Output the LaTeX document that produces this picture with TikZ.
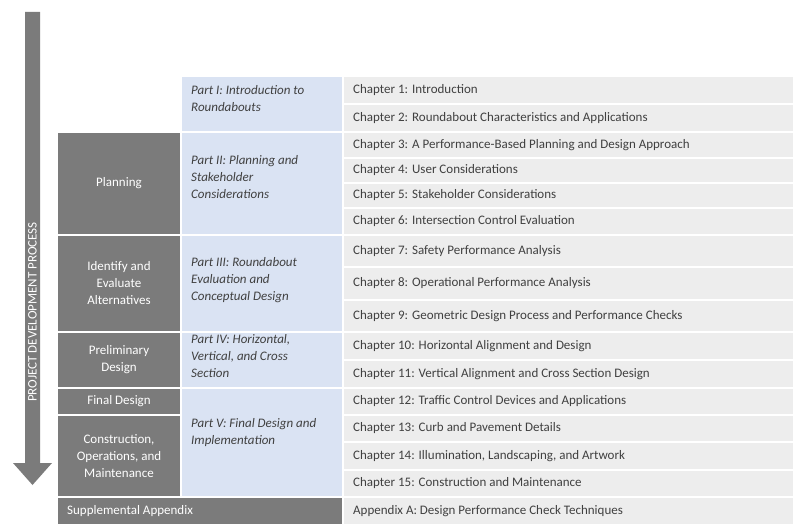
\documentclass[tikz,border=0pt]{standalone}
\usepackage{fontspec}
\setmainfont{Carlito}
\definecolor{gbox}{HTML}{7B7B7B}
\definecolor{bbox}{HTML}{DAE3F3}
\definecolor{cbox}{HTML}{EDEDED}
\definecolor{txt}{HTML}{404040}
\begin{document}
\begin{tikzpicture}[x=1pt,y=-1pt,
  cell/.style={draw=white,line width=1.5pt},
  ctext/.style={anchor=west,text=txt,font=\fontsize{13}{15}\selectfont,inner sep=0},
  gtext/.style={text=white,font=\fontsize{13}{17}\selectfont,align=center,inner sep=0},
  btext/.style={anchor=north west,text=txt,font=\fontsize{13}{17}\selectfont\itshape,align=left,inner sep=0}]
\useasboundingbox (0,0) rectangle (800,532);
% arrow
\fill[gbox] (25,12) -- (40,12) -- (40,463) -- (52,463) -- (32.5,485) -- (13,463) -- (25,463) -- cycle;
\node[rotate=90,text=white,font=\fontsize{13}{15}\selectfont,inner sep=0] (arr) at (32.5,312) {PROJECT DEVELOPMENT PROCESS};
% chapters
\def\rows{76/104/Chapter 1: Introduction,104/132/Chapter 2: Roundabout Characteristics and Applications,132/158/Chapter 3: A Performance-Based Planning and Design Approach,158/183/Chapter 4: User Considerations,183/208/Chapter 5: Stakeholder Considerations,208/235/Chapter 6: Intersection Control Evaluation,235/267/Chapter 7: Safety Performance Analysis,267/300/Chapter 8: Operational Performance Analysis,300/332/Chapter 9: Geometric Design Process and Performance Checks,332/360/Chapter 10: Horizontal Alignment and Design,360/388/Chapter 11: Vertical Alignment and Cross Section Design,388/415/Chapter 12: Traffic Control Devices and Applications,415/442/Chapter 13: Curb and Pavement Details,442/470/Chapter 14: Illumination{,} Landscaping{,} and Artwork,470/497/Chapter 15: Construction and Maintenance,497/525/Appendix A: Design Performance Check Techniques}
\foreach \a/\b/\t [count=\i] in \rows {
  \fill[cbox,cell] (343,\a) rectangle (794,\b);
  \node[ctext] (ch\i) at (353,{(\a+\b)/2}) {\t};
}
% blue parts
\foreach \a/\b/\t [count=\i] in {76/132/{Part I: Introduction to\\Roundabouts},132/235/{Part II: Planning and\\Stakeholder\\Considerations},235/332/{Part III: Roundabout\\Evaluation and\\Conceptual Design},332/388/{Part IV: Horizontal,\\Vertical, and Cross\\Section},388/497/{Part V: Final Design and\\Implementation}} {
  \fill[bbox,cell] (181,\a) rectangle (343,\b);
}
\node[btext] (p1) at (191,85) {Part I: Introduction to\\Roundabouts};
\node[btext] (p2) at (191,155) {Part II: Planning and\\Stakeholder\\Considerations};
\node[btext] (p3) at (191,257) {Part III: Roundabout\\Evaluation and\\Conceptual Design};
\node[btext] (p4) at (191,334) {Part IV: Horizontal,\\Vertical, and Cross\\Section};
\node[btext] (p5) at (191,418) {Part V: Final Design and\\Implementation};
% grey phases
\foreach \a/\b [count=\i] in {132/235,235/332,332/388,388/415,415/497} {
  \fill[gbox,cell] (57,\a) rectangle (181,\b);
}
\node[gtext] (g1) at (119,183.5) {Planning};
\node[gtext] (g2) at (119,283.5) {Identify and\\Evaluate\\Alternatives};
\node[gtext] (g3) at (119,360) {Preliminary\\Design};
\node[gtext] (g4) at (119,401.5) {Final Design};
\node[gtext] (g5) at (119,456) {Construction,\\Operations, and\\Maintenance};
\fill[gbox,cell] (57,497) rectangle (343,525);
\node[text=white,font=\fontsize{13}{15}\selectfont,anchor=west,inner sep=0] (sup) at (67,511) {Supplemental Appendix};
\end{tikzpicture}
\end{document}
